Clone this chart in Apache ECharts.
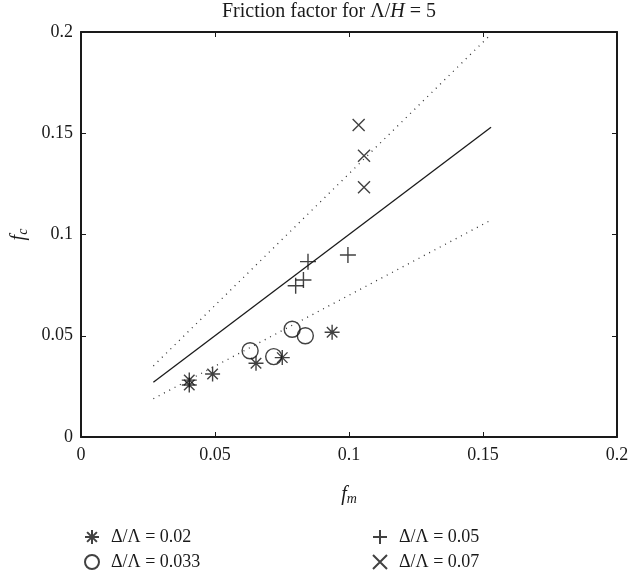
<!DOCTYPE html>
<html>
<head>
<meta charset="utf-8">
<script src="https://cdn.jsdelivr.net/npm/echarts@6/dist/echarts.min.js"></script>
<style>
  html, body { margin: 0; padding: 0; background: #fff; }
  #chart { width: 644px; height: 575px; }
</style>
</head>
<body>
<div id="chart"></div>
<script>
// measured points (f_m, f_c) for each roughness ratio
var star002 = [[0.0404, 0.0281], [0.0404, 0.0257], [0.0491, 0.0311], [0.0653, 0.0364], [0.0751, 0.0392], [0.0937, 0.0517]];
var circ0033 = [[0.0631, 0.0426], [0.0719, 0.0397], [0.0788, 0.0532], [0.0837, 0.0500]];
var plus005 = [[0.0801, 0.0747], [0.0830, 0.0775], [0.0847, 0.0866], [0.0996, 0.0899]];
var cross007 = [[0.1036, 0.1541], [0.1056, 0.1389], [0.1056, 0.1233]];

// reference lines
var lineX = [0.027, 0.153];
var lineMid = [0.027, 0.153];
var lineUp = [0.0351, 0.1989];
var lineLow = [0.0189, 0.1071];

var seriesNames = ['Δ/Λ = 0.02', 'Δ/Λ = 0.033', 'Δ/Λ = 0.05', 'Δ/Λ = 0.07'];

var serif = 'Liberation Serif';
var starPath = 'path://M0,5L10,5M5,0L5,10M1.5,1.5L8.5,8.5M1.5,8.5L8.5,1.5';
var plusPath = 'path://M0,5L10,5M5,0L5,10';
var crossPath = 'path://M0,0L10,10M0,10L10,0';

function pairs(xs, ys) {
    var out = [];
    for (let i = 0; i < xs.length; i++) out.push([xs[i], ys[i]]);
    return out;
}

var chart = echarts.init(document.getElementById('chart'));

function mainAxis(pos, showLabel) {
    return {
        type: 'value',
        position: pos,
        min: 0, max: 0.2, interval: 0.05,
        splitLine: { show: false },
        axisLine: { show: true, onZero: false, lineStyle: { color: '#1a1a1a', width: 2 } },
        axisTick: { show: true, inside: true, length: 5, lineStyle: { color: '#1a1a1a', width: 1 } },
        axisLabel: {
            show: showLabel,
            fontFamily: serif, fontSize: 18, color: '#1a1a1a',
            formatter: function (v) { return String(+v.toFixed(2)); }
        }
    };
}

var markerStyle = { color: 'transparent', borderColor: '#111', borderWidth: 1.4 };

var nameRich = {
    i: { fontFamily: serif, fontStyle: 'italic', fontSize: 20, color: '#1a1a1a' },
    s: { fontFamily: serif, fontStyle: 'italic', fontSize: 14, color: '#1a1a1a', padding: [9, 0, 0, 0] }
};

var xMain = mainAxis('bottom', true);
xMain.axisLabel.margin = 9;
xMain.name = '{i|f}{s|m}';
xMain.nameLocation = 'middle';
xMain.nameGap = 46;
xMain.nameTextStyle = { rich: nameRich };

var yMain = mainAxis('left', true);
yMain.axisLabel.margin = 8;
yMain.name = '{i|f}{s|c}';
yMain.nameLocation = 'middle';
yMain.nameGap = 36;
yMain.nameTextStyle = { rich: nameRich };

var legendText = { fontFamily: serif, fontSize: 18, color: '#1a1a1a', padding: [0, 0, 0, 6] };

// one legend box per entry, laid out as two columns
var legendPos = [[84, 528], [84, 553], [372, 528], [372, 553]];
var legends = [];
for (let i = 0; i < seriesNames.length; i++) {
    legends.push({
        orient: 'vertical', left: legendPos[i][0], top: legendPos[i][1], padding: 0,
        itemWidth: 16, itemHeight: 14,
        textStyle: legendText,
        data: [seriesNames[i]]
    });
}

var option = {
    backgroundColor: '#fff',
    animation: false,
    title: {
        text: 'Friction factor for Λ/{i|H} = 5',
        left: 329, top: 0, padding: [2, 0, 0, 0], textAlign: 'center',
        textStyle: {
            fontFamily: serif, fontSize: 20, fontWeight: 'normal', color: '#1a1a1a',
            rich: { i: { fontFamily: serif, fontStyle: 'italic', fontSize: 20, color: '#1a1a1a' } }
        }
    },
    grid: { left: 81, right: 27, top: 32, bottom: 138, outerBoundsMode: 'none' },
    xAxis: [xMain, mainAxis('top', false)],
    yAxis: [yMain, mainAxis('right', false)],
    legend: legends,
    series: [
        {
            name: seriesNames[0], type: 'scatter', symbol: starPath, symbolSize: 15,
            itemStyle: markerStyle, data: star002
        },
        {
            name: seriesNames[1], type: 'scatter', symbol: 'circle', symbolSize: 16,
            itemStyle: markerStyle, data: circ0033
        },
        {
            name: seriesNames[2], type: 'scatter', symbol: plusPath, symbolSize: 16,
            itemStyle: markerStyle, data: plus005
        },
        {
            name: seriesNames[3], type: 'scatter', symbol: crossPath, symbolSize: 12,
            itemStyle: markerStyle, data: cross007
        },
        {
            name: 'mid', type: 'line', showSymbol: false, silent: true,
            lineStyle: { color: '#1a1a1a', width: 1.3 },
            data: pairs(lineX, lineMid)
        },
        {
            name: 'upper', type: 'line', showSymbol: false, silent: true,
            lineStyle: { color: '#333', width: 1.3, type: [1, 5] },
            data: pairs(lineX, lineUp)
        },
        {
            name: 'lower', type: 'line', showSymbol: false, silent: true,
            lineStyle: { color: '#333', width: 1.3, type: [1, 5] },
            data: pairs(lineX, lineLow)
        }
    ]
};

chart.setOption(option);
</script>
</body>
</html>
